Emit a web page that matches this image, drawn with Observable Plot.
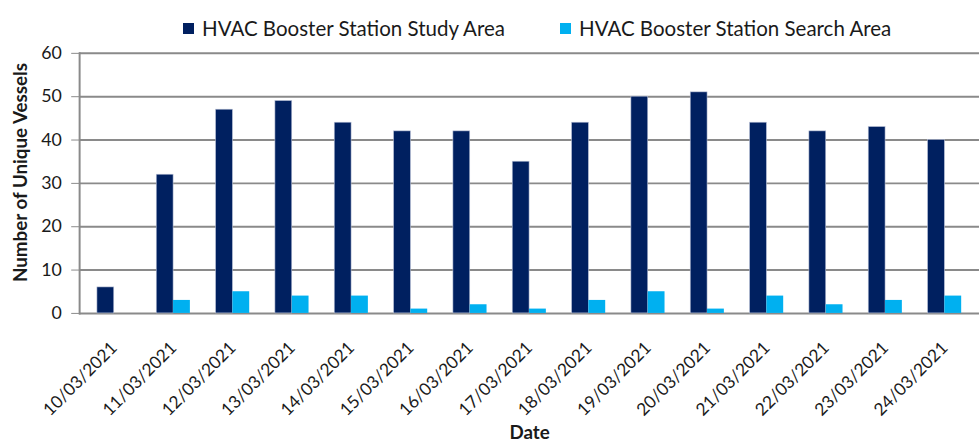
<!DOCTYPE html>
<html>
<head>
<meta charset="utf-8">
<script src="https://cdn.jsdelivr.net/npm/d3@7"></script>
<script src="https://cdn.jsdelivr.net/npm/@observablehq/plot@0.6"></script>
<style>
  html, body { margin: 0; padding: 0; background: #fff; overflow: hidden; width: 979px; height: 448px; }
  body { font-family: Lato, "Open Sans", sans-serif; color: #1a1a1a; }
  #legend { position: relative; height: 40px; font-size: 20.5px; }
  .item { position: absolute; top: 15px; height: 26px; display: flex; align-items: center; white-space: nowrap; }
  .sw { width: 11px; height: 11px; margin-right: 8px; display: inline-block; }
  #chart svg { display: block; overflow: hidden; }
</style>
</head>
<body>
<div id="legend"></div>
<div id="chart"></div>
<script>
const dates = ["10/03/2021","11/03/2021","12/03/2021","13/03/2021","14/03/2021","15/03/2021","16/03/2021","17/03/2021","18/03/2021","19/03/2021","20/03/2021","21/03/2021","22/03/2021","23/03/2021","24/03/2021"];
const studyArea = [6,32,47,49,44,42,42,35,44,50,51,44,42,43,40];
const searchArea = [0,3,5,4,4,1,2,1,3,5,1,4,2,3,4];
const seriesNames = ["HVAC Booster Station Study Area","HVAC Booster Station Search Area"];
const seriesColors = ["#002060","#00B0F0"];
const yTicks = [0,10,20,30,40,50,60];

const W = 990, H = 408, ML = 80, MR = 0, MT = 13, MB = 132;
const padInner = 0.44, padOuter = 0.22;
const step = (W - ML - MR) / (dates.length - padInner + 2 * padOuter);
const half = step * (1 - padInner) / 2;

const study = dates.map((d, i) => ({date: d, value: studyArea[i]}));
const search = dates.map((d, i) => ({date: d, value: searchArea[i]}));

const legend = document.getElementById("legend");
const legendLeft = [183, 560];
seriesNames.forEach((n, i) => {
  const it = document.createElement("div");
  it.className = "item";
  it.style.left = legendLeft[i] + "px";
  it.innerHTML = `<span class="sw" style="background:${seriesColors[i]}"></span><span>${n}</span>`;
  legend.appendChild(it);
});

const chart = Plot.plot({
  width: W, height: H,
  marginLeft: ML, marginRight: MR, marginTop: MT, marginBottom: MB,
  style: {fontFamily: "Lato, 'Open Sans', sans-serif", color: "#1a1a1a", background: "#fff", overflow: "hidden"},
  x: {domain: dates, paddingInner: padInner, paddingOuter: padOuter, axis: null},
  y: {domain: [0, 60], axis: null},
  marks: [
    Plot.ruleY(yTicks, {stroke: "#8a8a8a", strokeWidth: 2}),
    Plot.frame({anchor: "left", stroke: "#8a8a8a", strokeWidth: 2}),
    Plot.barY(study, {x: "date", y: "value", fill: seriesColors[0], insetRight: half, stroke: "#b8c0d6", strokeWidth: 0.6}),
    Plot.barY(search, {x: "date", y: "value", fill: seriesColors[1], insetLeft: half}),
    Plot.axisY({ticks: yTicks, tickSize: 8, tickPadding: 10, stroke: "#8a8a8a", fontSize: 18, label: null}),
    Plot.axisX({tickSize: 0, tickRotate: -45, tickPadding: 32, fontSize: 17.5, label: null}),
    Plot.text(["Number of Unique Vessels"], {frameAnchor: "left", textAnchor: "middle", lineAnchor: "middle", rotate: -90, dx: -59, dy: -11, fontWeight: "bold", fontSize: 19}),
    Plot.text(["Date"], {frameAnchor: "bottom", lineAnchor: "middle", dy: 121, fontWeight: "bold", fontSize: 19})
  ]
});
document.getElementById("chart").appendChild(chart);
</script>
</body>
</html>
